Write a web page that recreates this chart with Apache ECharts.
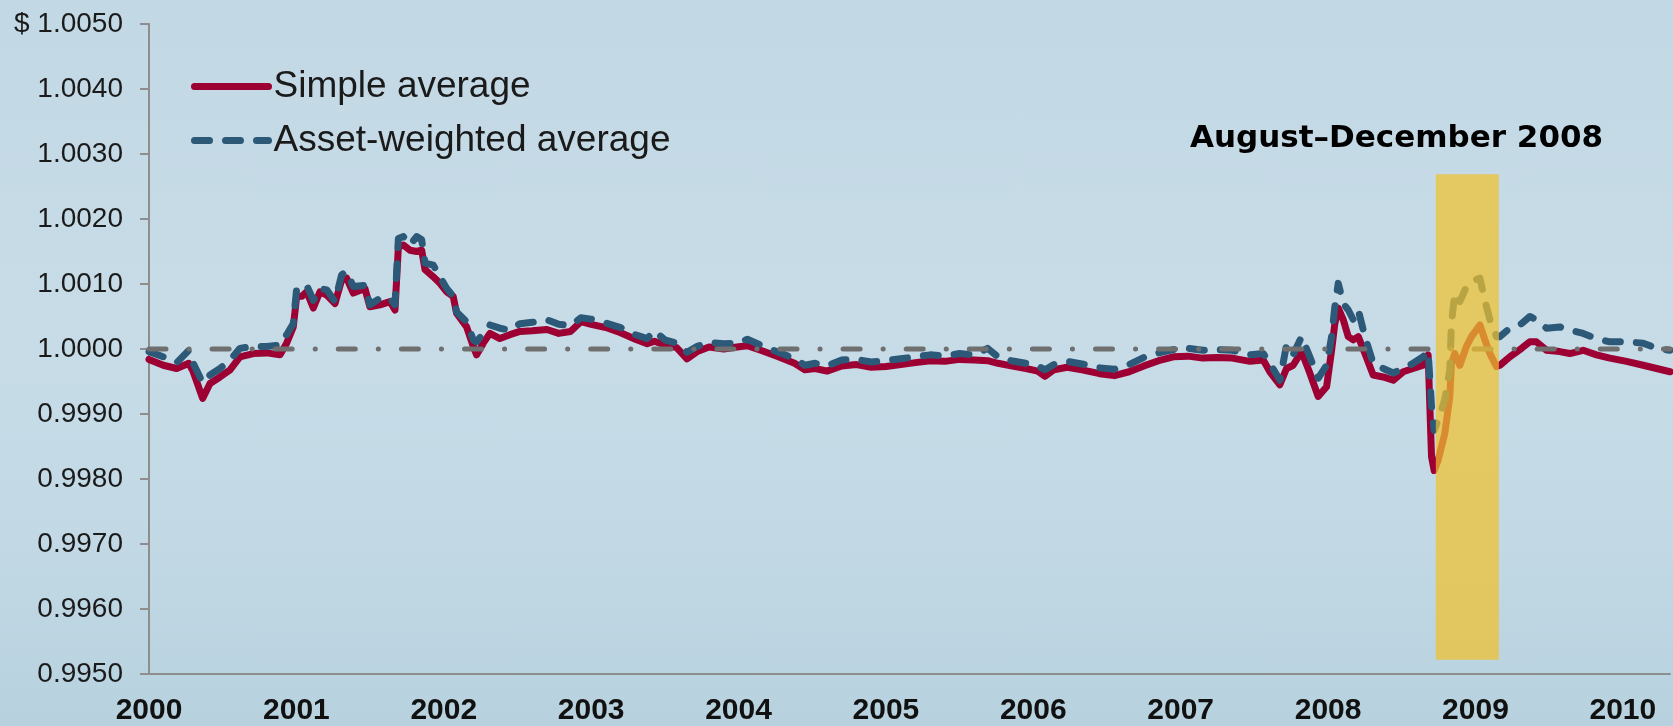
<!DOCTYPE html>
<html lang="en">
<head>
    <meta charset="utf-8" />
    <script src="https://cdn.jsdelivr.net/npm/echarts@6/dist/echarts.min.js"></script>
    <title>fund_share_price</title>
    <style>
        html, body { margin: 0; padding: 0; }
        #main {
            width: 1673px; height: 726px;
            background: linear-gradient(180deg, #c2d8e4 0%, #c7dce7 45%, #c2d9e5 75%, #b7d1de 100%);
        }
    </style>
</head>

<body>
<div id="main"></div>
<script type="text/javascript">
    // decimal years
    const dates = [
        2000.000, 2000.097, 2000.188, 2000.270, 2000.300, 2000.364, 2000.414, 2000.482, 2000.550, 2000.617, 2000.708, 2000.798, 2000.889, 2000.934, 2000.979,
        2001.002, 2001.036, 2001.070, 2001.115, 2001.160, 2001.206, 2001.262, 2001.307, 2001.341, 2001.386, 2001.465, 2001.499, 2001.567, 2001.635, 2001.669, 2001.692, 2001.726, 2001.771, 2001.816, 2001.850, 2001.873, 2001.929, 2001.974,
        2002.020, 2002.064, 2002.087, 2002.155, 2002.200, 2002.223, 2002.268, 2002.313, 2002.381, 2002.449, 2002.517, 2002.600, 2002.700, 2002.780, 2002.860, 2002.930,
        2003.000, 2003.100, 2003.200, 2003.300, 2003.380, 2003.430, 2003.500, 2003.580, 2003.650, 2003.720, 2003.800, 2003.900, 2003.990,
        2004.060, 2004.150, 2004.270, 2004.380, 2004.450, 2004.520, 2004.600, 2004.700, 2004.800, 2004.900,
        2005.000, 2005.100, 2005.200, 2005.300, 2005.400, 2005.500, 2005.600, 2005.690, 2005.760, 2005.850, 2005.950,
        2006.030, 2006.080, 2006.140, 2006.230, 2006.330, 2006.450, 2006.550, 2006.650, 2006.750, 2006.850, 2006.950,
        2007.050, 2007.150, 2007.250, 2007.350, 2007.470, 2007.560, 2007.605, 2007.673, 2007.718, 2007.763, 2007.820, 2007.876, 2007.933, 2007.990,
        2008.024, 2008.046, 2008.069, 2008.103, 2008.137, 2008.171, 2008.205, 2008.250, 2008.306, 2008.374, 2008.442, 2008.510, 2008.577, 2008.645, 2008.679, 2008.702, 2008.720, 2008.747, 2008.792, 2008.826, 2008.837, 2008.860, 2008.894, 2008.939, 2008.973,
        2009.030, 2009.064, 2009.098, 2009.143, 2009.166, 2009.233, 2009.313, 2009.369, 2009.414, 2009.482, 2009.572, 2009.640, 2009.731, 2009.821, 2009.912,
        2010.025, 2010.138, 2010.229, 2010.320
    ];

    const simpleAvg = [
        0.99984, 0.99975, 0.99970, 0.99978, 0.99965, 0.99924, 0.99947, 0.99957, 0.99968, 0.99988, 0.99993, 0.99994, 0.99991, 1.00009, 1.00034,
        1.00081, 1.00081, 1.00088, 1.00063, 1.00088, 1.00083, 1.00070, 1.00106, 1.00109, 1.00086, 1.00093, 1.00065, 1.00068, 1.00073, 1.00060, 1.00157, 1.00160, 1.00152, 1.00150, 1.00152, 1.00122, 1.00111, 1.00101,
        1.00088, 1.00081, 1.00055, 1.00034, 1.00004, 0.99991, 1.00009, 1.00024, 1.00016, 1.00022, 1.00027, 1.00028, 1.00030, 1.00024, 1.00027, 1.00042,
        1.00038, 1.00033, 1.00025, 1.00015, 1.00008, 1.00012, 1.00006, 1.00002, 0.99985, 0.99996, 1.00003, 1.00000, 1.00003,
        1.00005, 0.99998, 0.99988, 0.99978, 0.99968, 0.99970, 0.99966, 0.99974, 0.99976, 0.99972,
        0.99973, 0.99976, 0.99979, 0.99982, 0.99981, 0.99984, 0.99983, 0.99982, 0.99978, 0.99974, 0.99970,
        0.99966, 0.99958, 0.99968, 0.99972, 0.99968, 0.99962, 0.99959, 0.99965, 0.99974, 0.99982, 0.99988,
        0.99989, 0.99986, 0.99987, 0.99986, 0.99981, 0.99983, 0.99965, 0.99945, 0.99970, 0.99975, 0.99996, 0.99963, 0.99927, 0.99942,
        0.99998, 1.00039, 1.00063, 1.00045, 1.00019, 1.00014, 1.00019, 0.99993, 0.99960, 0.99957, 0.99952, 0.99965, 0.99970, 0.99975, 0.99991, 0.99834, 0.99813, 0.99829, 0.99870, 0.99927, 0.99978, 0.99993, 0.99975, 1.00004, 1.00019,
        1.00037, 1.00014, 0.99993, 0.99973, 0.99975, 0.99988, 1.00001, 1.00011, 1.00011, 0.99998, 0.99996, 0.99993, 0.99998, 0.99991, 0.99986,
        0.99981, 0.99975, 0.99970, 0.99965
    ];

    const assetWeighted = [
        0.99996, 0.99988, 0.99979, 0.99998, 0.99978, 0.99948, 0.99960, 0.99970, 0.99983, 1.00001, 1.00004, 1.00004, 1.00006, 1.00022, 1.00039,
        1.00093, 1.00096, 1.00098, 1.00075, 1.00093, 1.00091, 1.00073, 1.00114, 1.00119, 1.00096, 1.00098, 1.00068, 1.00078, 1.00078, 1.00068, 1.00170, 1.00173, 1.00160, 1.00173, 1.00168, 1.00132, 1.00129, 1.00111,
        1.00093, 1.00081, 1.00057, 1.00042, 1.00014, 1.00011, 1.00024, 1.00037, 1.00032, 1.00029, 1.00039, 1.00041, 1.00045, 1.00038, 1.00036, 1.00048,
        1.00046, 1.00040, 1.00033, 1.00022, 1.00016, 1.00028, 1.00014, 1.00009, 0.99995, 1.00004, 1.00010, 1.00008, 1.00009,
        1.00015, 1.00006, 0.99995, 0.99985, 0.99975, 0.99978, 0.99974, 0.99983, 0.99984, 0.99980,
        0.99982, 0.99985, 0.99988, 0.99991, 0.99989, 0.99993, 0.99991, 1.00001, 0.99988, 0.99982, 0.99978,
        0.99974, 0.99968, 0.99976, 0.99981, 0.99977, 0.99971, 0.99969, 0.99976, 0.99987, 0.99994, 0.99999,
        1.00001, 0.99998, 0.99999, 0.99998, 0.99991, 0.99993, 0.99978, 0.99952, 1.00006, 0.99991, 1.00019, 0.99988, 0.99955, 0.99975,
        1.00019, 1.00065, 1.00101, 1.00070, 1.00060, 1.00045, 1.00060, 1.00019, 0.99978, 0.99970, 0.99963, 0.99970, 0.99978, 0.99988, 0.99996, 0.99911, 0.99875, 0.99891, 0.99922, 0.99968, 1.00039, 1.00086, 1.00073, 1.00096, 1.00104,
        1.00109, 1.00075, 1.00045, 1.00019, 1.00019, 1.00032, 1.00039, 1.00050, 1.00045, 1.00032, 1.00034, 1.00029, 1.00024, 1.00016, 1.00011,
        1.00011, 1.00009, 1.00001, 0.99998
    ];

    const yearTicks = [2000, 2001, 2002, 2003, 2004, 2005, 2006, 2007, 2008, 2009, 2010];
    const xRange = [2000, 2010.32];
    const yRange = [0.9950, 1.0050];
    const parValue = 1.0000;
    const bandX = [2008.731, 2009.159];
    const bandY = [0.99522, 1.00269];
    const bandText = 'August\u2013December 2008';

    let myChart = echarts.init(document.getElementById('main'));

    const axisGray = '#8e8e8e';
    const redColor = '#9d0032';
    const blueColor = '#2d5979';

    option = {
        animation: false,
        grid: { left: 149, top: 24, right: 3, bottom: 52 },
        legend: {
            data: [{
                name: 'Simple average',
                itemStyle: { opacity: 0 },
                lineStyle: { width: 7, cap: 'round', color: redColor }
            }, {
                name: 'Asset-weighted average',
                itemStyle: { opacity: 0 },
                lineStyle: { width: 7, cap: 'round', color: blueColor, type: [15, 16] }
            }],
            orient: 'vertical',
            left: 186,
            top: 63,
            itemWidth: 74,
            itemHeight: 7,
            itemGap: 17,
            textStyle: {
                fontFamily: 'Liberation Sans',
                fontSize: 37,
                color: '#1a1a1a'
            }
        },
        xAxis: {
            type: 'value',
            min: xRange[0],
            max: xRange[1],
            interval: 1,
            axisLine: { lineStyle: { color: axisGray, width: 2 } },
            axisTick: { show: false },
            splitLine: { show: false },
            axisLabel: {
                margin: 22,
                color: '#111',
                fontFamily: 'Liberation Sans',
                fontWeight: 'bold',
                fontSize: 30,
                formatter: function (v) {
                    let y = Math.round(v * 1000) / 1000;
                    return yearTicks.indexOf(y) >= 0 ? String(y) : '';
                }
            }
        },
        yAxis: {
            type: 'value',
            min: yRange[0],
            max: yRange[1],
            interval: 0.001,
            axisLine: { show: true, lineStyle: { color: axisGray, width: 2 } },
            axisTick: { show: true, length: 9, lineStyle: { color: axisGray, width: 2 } },
            splitLine: { show: false },
            axisLabel: {
                margin: 26,
                color: '#1a1a1a',
                fontFamily: 'Liberation Sans',
                fontSize: 28,
                formatter: function (v) {
                    let s = v.toFixed(4);
                    if (Math.abs(v - yRange[1]) < 1e-9) s = '$ ' + s;
                    return s;
                }
            }
        },
        graphic: [{
            type: 'text',
            left: 1190,
            top: 123,
            style: {
                text: bandText,
                fill: '#000',
                font: 'bold 31px "DejaVu Sans"'
            }
        }],
        series: [{
            name: 'Simple average',
            type: 'line',
            symbol: 'none',
            z: 2,
            lineStyle: { color: redColor, width: 7, cap: 'round', join: 'round' },
            itemStyle: { color: redColor },
            data: dates.map((d, i) => [d, simpleAvg[i]])
        }, {
            name: 'Asset-weighted average',
            type: 'line',
            symbol: 'none',
            z: 3,
            lineStyle: { color: blueColor, width: 7, type: [15, 16], cap: 'round', join: 'round' },
            itemStyle: { color: blueColor },
            data: dates.map((d, i) => [d, assetWeighted[i]])
        }, {
            type: 'line',
            symbol: 'none',
            z: 4,
            silent: true,
            lineStyle: { color: '#6f6f6f', width: 5, type: [17, 23, 0.1, 23], cap: 'round' },
            data: [[xRange[0], parValue], [xRange[1], parValue]],
            markArea: {
                silent: true,
                z: 10,
                itemStyle: { color: 'rgba(240,193,46,0.72)' },
                data: [[{ xAxis: bandX[0], yAxis: bandY[0] }, { xAxis: bandX[1], yAxis: bandY[1] }]]
            }
        }]
    };
    myChart.setOption(option);
</script>
</body>
</html>
